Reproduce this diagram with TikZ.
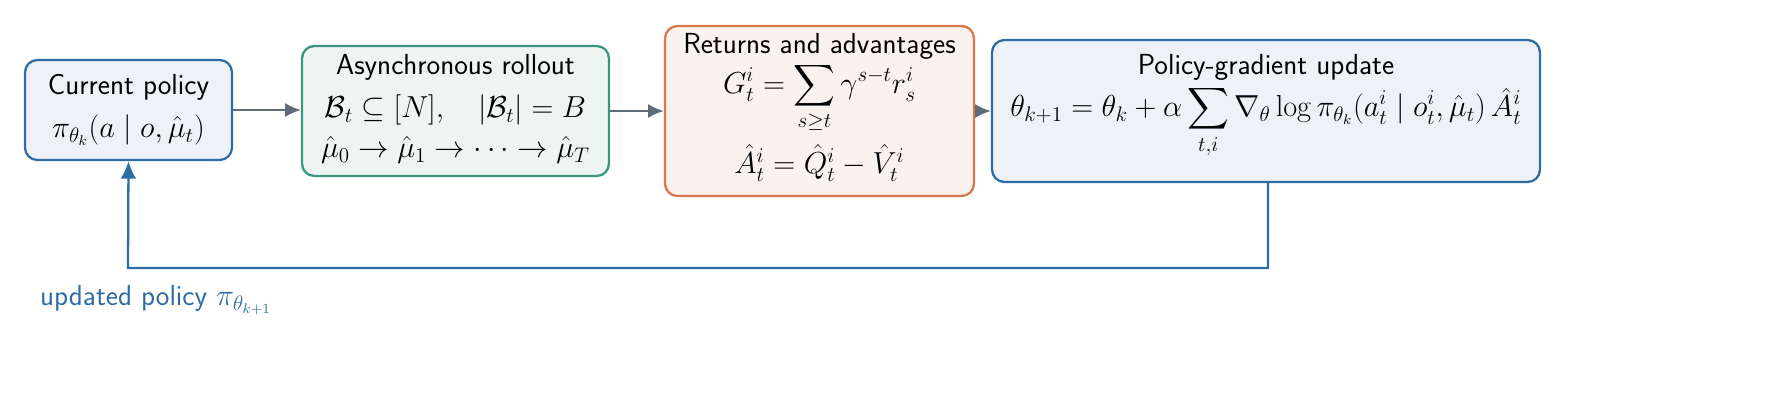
\documentclass[tikz,border=0pt]{standalone}
\usepackage{amsmath,amssymb}
\usetikzlibrary{arrows.meta}
\definecolor{cblue}{HTML}{2E6DA4}
\definecolor{cgreen}{HTML}{3A9680}
\definecolor{corange}{HTML}{D9774A}
\definecolor{fblue}{HTML}{EEF2F6}
\definecolor{fgreen}{HTML}{EEF4F2}
\definecolor{forange}{HTML}{FBF2EE}
\definecolor{cgray}{HTML}{5F6B78}
\begin{document}
\begin{tikzpicture}[x=0.02cm,y=-0.02cm,
  box/.style={draw,line width=1.3pt,rounded corners=7pt,inner sep=0pt},
  lbl/.style={font=\fontsize{16.5}{19}\selectfont,align=center,inner sep=1pt},
  arr/.style={-{Latex[length=9pt,width=8pt]},line width=1.2pt,cgray}]
\useasboundingbox (0,0) rectangle (1788,403);
\node[box,draw=cblue,fill=fblue,minimum width=4.14cm,minimum height=2cm] (b1) at (128.5,110) {};
\node[lbl] (t1a) at (128.5,87) {\sffamily Current policy};
\node[lbl] (t1b) at (128.5,130) {$\pi_{\theta_k}(a\mid o,\hat\mu_t)$};
\node[box,draw=cgreen,fill=fgreen,minimum width=6.14cm,minimum height=2.6cm] (b2) at (455.5,111) {};
\node[lbl] (t2a) at (455.5,67) {\sffamily Asynchronous rollout};
\node[lbl] (t2b) at (455.5,110) {$\mathcal{B}_t\subseteq[N],\quad|\mathcal{B}_t|=B$};
\node[lbl] (t2c) at (455.5,150) {$\hat\mu_0\to\hat\mu_1\to\cdots\to\hat\mu_T$};
\node[box,draw=corange,fill=forange,minimum width=6.18cm,minimum height=3.4cm] (b3) at (819.5,111) {};
\node[lbl] (t3a) at (819.5,46) {\sffamily Returns and advantages};
\node[lbl] (t3b) at (819.5,98) {$\displaystyle G_t^i=\sum_{s\ge t}\gamma^{s-t}r_s^i$};
\node[lbl] (t3c) at (819.5,163) {$\hat A_t^i=\hat Q_t^i-\hat V_t^i$};
\node[box,draw=cblue,fill=fblue,minimum width=10.96cm,minimum height=2.84cm] (b4) at (1266,111) {};
\node[lbl] (t4a) at (1266,67) {\sffamily Policy-gradient update};
\node[lbl] (t4b) at (1266,122) {$\displaystyle \theta_{k+1}=\theta_k+\alpha\sum_{t,i}\nabla_\theta\log\pi_{\theta_k}(a_t^i\mid o_t^i,\hat\mu_t)\,\hat A_t^i$};
\draw[arr] (b1.east) -- (b2.west |- b1.east);
\draw[arr] (b2.east) -- (b3.west |- b2.east);
\draw[arr] (b3.east) -- (b4.west |- b3.east);
\coordinate (c0) at (1268,182);
\coordinate (c1) at (1268,268);
\coordinate (c2) at (128,268);
\draw[-{Latex[length=10pt,width=9pt]},line width=1.3pt,cblue] (c0) -- (c1) -- (c2) -- (b1.south);
\node[lbl,anchor=west,text=cblue] (up) at (38,300) {\sffamily updated policy $\pi_{\theta_{k+1}}$};
\end{tikzpicture}
\end{document}
